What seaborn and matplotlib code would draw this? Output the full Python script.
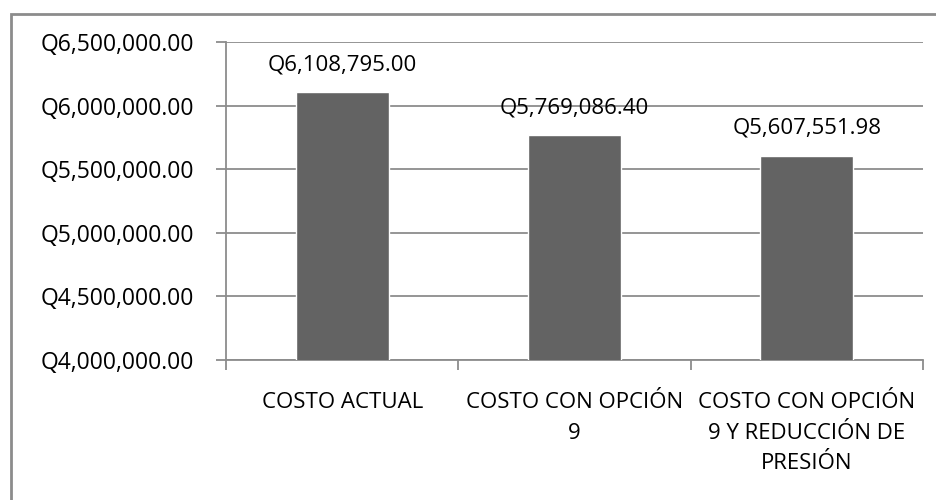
import matplotlib
matplotlib.use("Agg")
import matplotlib.pyplot as plt
import matplotlib.patches as mpatches
from matplotlib.ticker import FuncFormatter, FixedLocator
import seaborn as sns
import pandas as pd

categories = ["COSTO ACTUAL", "COSTO CON OPCIÓN\n9", "COSTO CON OPCIÓN\n9 Y REDUCCIÓN DE\nPRESIÓN"]
costs = [6108795.00, 5769086.40, 5607551.98]
y_ticks = [4000000, 4500000, 5000000, 5500000, 6000000, 6500000]

sns.set_theme(style="white")
plt.rcParams["font.family"] = ["Open Sans", "DejaVu Sans"]

df = pd.DataFrame({"categoria": categories, "costo": costs})

fig = plt.figure(figsize=(9.36, 5.0), dpi=100)
ax = fig.add_axes([226 / 936, 1 - 360 / 500, (923 - 226) / 936, (360 - 42) / 500])

sns.barplot(data=df, x="categoria", y="costo", color="#636363", saturation=1,
            width=0.4, ax=ax, zorder=3)

ax.set_ylim(y_ticks[0], y_ticks[-1])
ax.set_xlim(-0.5, len(categories) - 0.5)
ax.yaxis.set_major_locator(FixedLocator(y_ticks))
ax.yaxis.set_major_formatter(FuncFormatter(lambda v, p: f"Q{v:,.2f}"))
ax.grid(axis="y", color="#8c8c8c", linewidth=1.3, zorder=0)
ax.grid(axis="x", visible=False)

for side in ["top", "right"]:
    ax.spines[side].set_visible(False)
for side in ["left", "bottom"]:
    ax.spines[side].set_color("#8c8c8c")
    ax.spines[side].set_linewidth(1.3)

ax.set_xlabel("")
ax.set_ylabel("")
ax.tick_params(axis="y", which="major", left=True, length=7, width=1.3,
               color="#8c8c8c", labelsize=16.5, pad=16, labelcolor="black")
ax.tick_params(axis="x", which="major", bottom=False, labelsize=16, pad=17,
               labelcolor="black")
# category boundary ticks below the axis
ax.set_xticks([i - 0.5 for i in range(len(categories) + 1)], minor=True)
ax.tick_params(axis="x", which="minor", bottom=True, length=7, width=1.3,
               color="#8c8c8c", direction="out")
for lbl in ax.get_xticklabels():
    lbl.set_linespacing(1.6)

for i, v in enumerate(costs):
    ax.annotate(f"Q{v:,.2f}", (i, v), xytext=(0, 12), textcoords="offset points",
                ha="center", va="bottom", fontsize=16, color="black")

# chart area border
fig.patches.append(mpatches.Rectangle((11 / 936, -0.1), 1.2, 1 - 14 / 500 + 0.1,
                                      transform=fig.transFigure, fill=False,
                                      edgecolor="#8c8c8c", linewidth=2))

fig.savefig("out.png", dpi=100)
